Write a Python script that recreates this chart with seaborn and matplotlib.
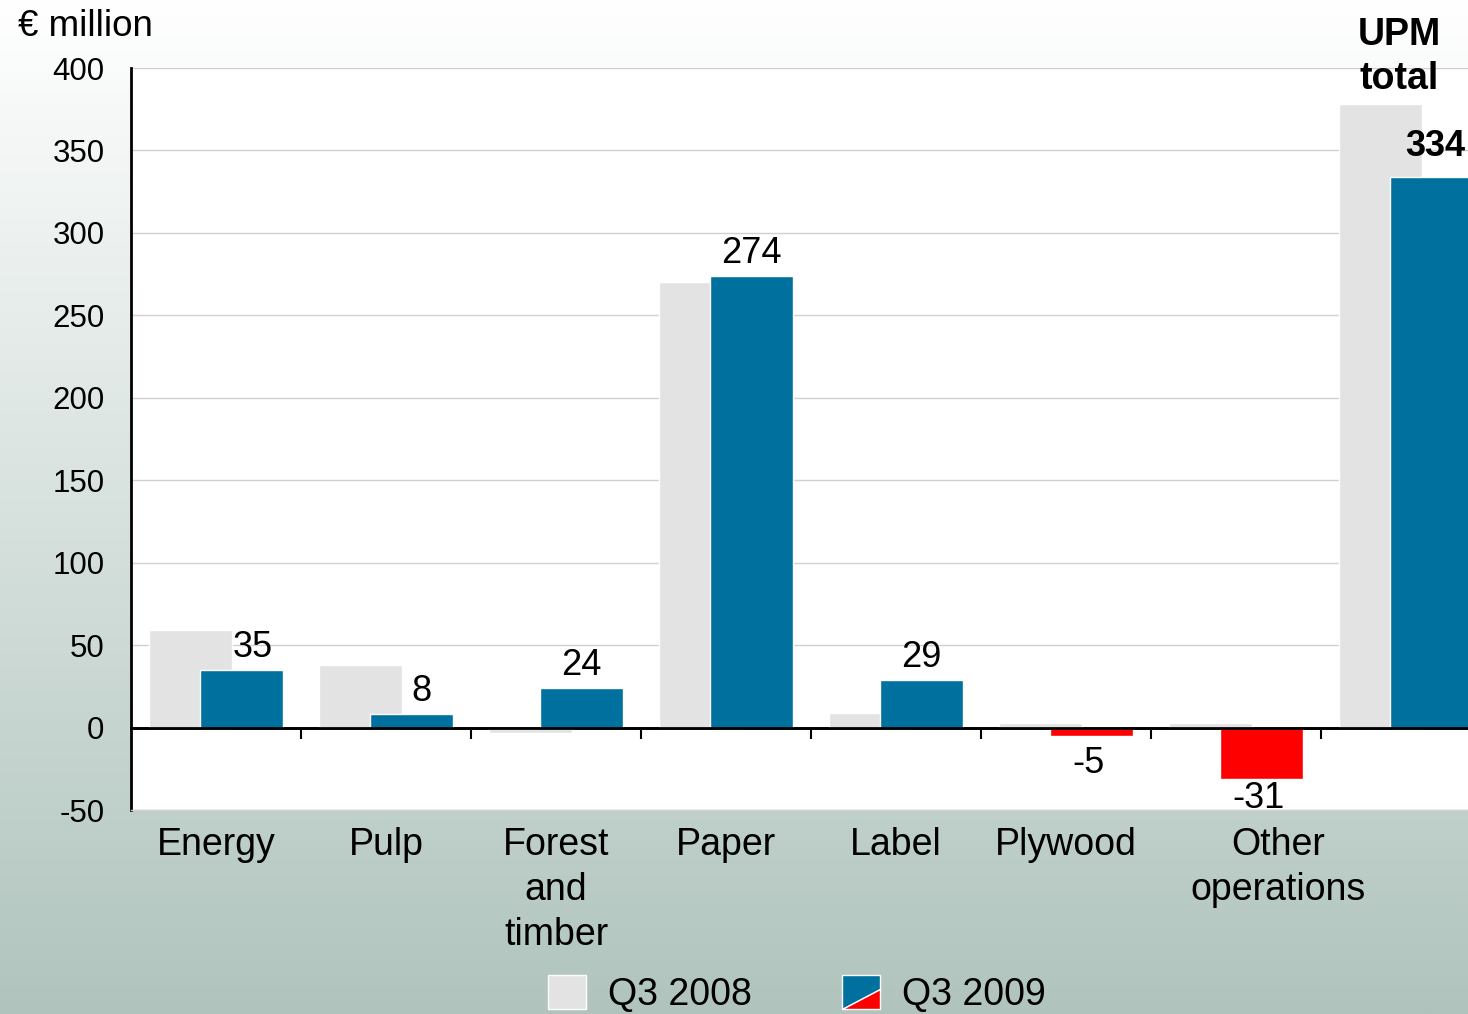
import numpy as np
import pandas as pd
import matplotlib
matplotlib.use("Agg")
import matplotlib.pyplot as plt
import matplotlib.transforms as mtransforms
from matplotlib.patches import Polygon, Rectangle
from matplotlib.legend_handler import HandlerBase
import seaborn as sns

# ---- data (EUR million) ----
segments = ["Energy", "Pulp", "Forest and timber", "Paper", "Label",
            "Plywood", "Other operations", "UPM total"]
segment_labels = ["Energy", "Pulp", "Forest\nand\ntimber", "Paper", "Label",
                  "Plywood", "Other\noperations", ""]
q3_2008 = [59, 38, -3, 270, 9, 3, 3, 378]
q3_2009 = [35, 8, 24, 274, 29, -5, -31, 334]
periods = ["Q3 2008", "Q3 2009"]
y_ticks = [-50, 0, 50, 100, 150, 200, 250, 300, 350, 400]

df = pd.DataFrame({
    "segment": segments * 2,
    "period": [periods[0]] * len(segments) + [periods[1]] * len(segments),
    "value": q3_2008 + q3_2009,
})

GREY = "#e3e3e3"
BLUE = "#00709e"
RED = "#ff0000"

sns.set_theme(style="white")
plt.rcParams["font.family"] = ["Liberation Sans", "DejaVu Sans"]
plt.rcParams["text.color"] = "black"
plt.rcParams["xtick.color"] = "black"
plt.rcParams["ytick.color"] = "black"
plt.rcParams["xtick.labelcolor"] = "black"
plt.rcParams["ytick.labelcolor"] = "black"

fig = plt.figure(figsize=(14.68, 10.14), dpi=100)

# vertical background gradient, white at top to sage grey at bottom
bg = fig.add_axes([0, 0, 1, 1], zorder=0)
top = np.array([255, 255, 255]) / 255
bottom = np.array([176, 196, 189]) / 255
t = np.linspace(0, 1, 512)[:, None]
grad = (top * (1 - t) + bottom * t)[:, None, :]
bg.imshow(grad, aspect="auto", extent=[0, 1, 0, 1], origin="upper")
bg.set_axis_off()

ax = fig.add_axes([131 / 1468, 1 - 810 / 1014, (1468 - 131) / 1468, (810 - 68) / 1014],
                  zorder=1)
ax.set_facecolor("white")

sns.barplot(data=df, x="segment", y="value", hue="period", order=segments,
            hue_order=periods, palette={periods[0]: GREY, periods[1]: BLUE},
            saturation=1, width=0.594, gap=-0.643, dodge=True, errorbar=None,
            edgecolor="white", linewidth=1.0, legend=False, ax=ax)

# negative results shown in red
for bar, v in zip(ax.containers[1], q3_2009):
    if v < 0:
        bar.set_facecolor(RED)

ymin, ymax = -50, 400
ax.set_ylim(ymin, ymax)
ax.set_xlim(-0.5, 7.365)
ax.set_yticks(y_ticks)
ax.set_yticklabels([str(v) for v in y_ticks], fontsize=22.5)
ax.set_xticks(range(len(segments)))
ax.set_xticklabels(segment_labels, fontsize=27, linespacing=1.32)
ax.tick_params(axis="x", length=0, pad=12)
ax.tick_params(axis="y", length=8, width=1.5, color="black", pad=11, direction="out")
ax.set_xlabel("")
ax.set_ylabel("")
ax.yaxis.grid(True, color="#d0d0d0", linewidth=1)
ax.set_axisbelow(True)
for s in ["top", "right"]:
    ax.spines[s].set_visible(False)
ax.spines["left"].set_color("black")
ax.spines["left"].set_linewidth(2)
ax.spines["bottom"].set_color("#d0d0d0")
ax.spines["bottom"].set_linewidth(1)

# shift the long label a little to the right
lbl = ax.get_xticklabels()[6]
lbl.set_transform(lbl.get_transform() + mtransforms.ScaledTranslation(42 / 100, 0, fig.dpi_scale_trans))

# zero line with segment separator ticks
ax.axhline(0, color="black", linewidth=2, zorder=5)
zero_frac = (0 - ymin) / (ymax - ymin)
sec = ax.secondary_xaxis(zero_frac)
sec.set_xticks([i + 0.5 for i in range(len(segments) - 1)])
sec.tick_params(axis="x", length=8, width=1.5, color="black", direction="out",
                labelbottom=False, labeltop=False)
for sp in sec.spines.values():
    sp.set_color("black")
    sp.set_linewidth(2)

# value labels on the Q3 2009 bars
x_shift = {0: 8.5, 1: 7}
neg_gap = {5: -7.5, 6: -1.5}
for i, (bar, v) in enumerate(zip(ax.containers[1], q3_2009)):
    cx = bar.get_x() + bar.get_width() / 2
    dx = x_shift.get(i, 0)
    if i == len(segments) - 1:
        ax.annotate(str(v), (cx, v), xytext=(3, 15), textcoords="offset points",
                    ha="center", va="baseline", fontsize=26, fontweight="bold")
    elif v >= 0:
        ax.annotate(str(v), (cx, v), xytext=(dx, 9.5), textcoords="offset points",
                    ha="center", va="baseline", fontsize=26)
    else:
        ax.annotate(str(v), (cx, v), xytext=(dx - 2, neg_gap.get(i, -4.5)),
                    textcoords="offset points", ha="center", va="top", fontsize=26)

# total column heading
ax.text(6.96, 1.015, "UPM\ntotal", transform=ax.get_xaxis_transform(),
        ha="center", va="center", fontsize=27, fontweight="bold", linespacing=1.3)

fig.text(18 / 1468, 1 - 27 / 1014, "€ million", ha="left", va="center", fontsize=26.5)


# legend: split swatch for Q3 2009 (blue positive / red negative)
class SplitHandler(HandlerBase):
    def create_artists(self, legend, orig_handle, xdescent, ydescent, width, height,
                       fontsize, trans):
        x0, y0 = -xdescent, -ydescent
        blue = Polygon([[x0, y0], [x0, y0 + height], [x0 + width, y0 + height],
                        [x0 + width, y0 + 0.58 * height]], closed=True,
                       facecolor=BLUE, edgecolor="white", linewidth=1, transform=trans)
        red = Polygon([[x0, y0], [x0 + width, y0], [x0 + width, y0 + 0.58 * height]],
                      closed=True, facecolor=RED, edgecolor="white", linewidth=1,
                      transform=trans)
        return [blue, red]


class SplitSwatch:
    pass


handles = [Rectangle((0, 0), 1, 1, facecolor=GREY, edgecolor="white", linewidth=1),
           SplitSwatch()]
fig.legend(handles, periods, loc="center", bbox_to_anchor=(797 / 1468, 1 - 994 / 1014),
           ncol=2, frameon=False, fontsize=27, handlelength=1.0, handleheight=1.0,
           handletextpad=0.6, columnspacing=2.4,
           handler_map={SplitSwatch: SplitHandler()})

fig.savefig("out.png", dpi=100)
